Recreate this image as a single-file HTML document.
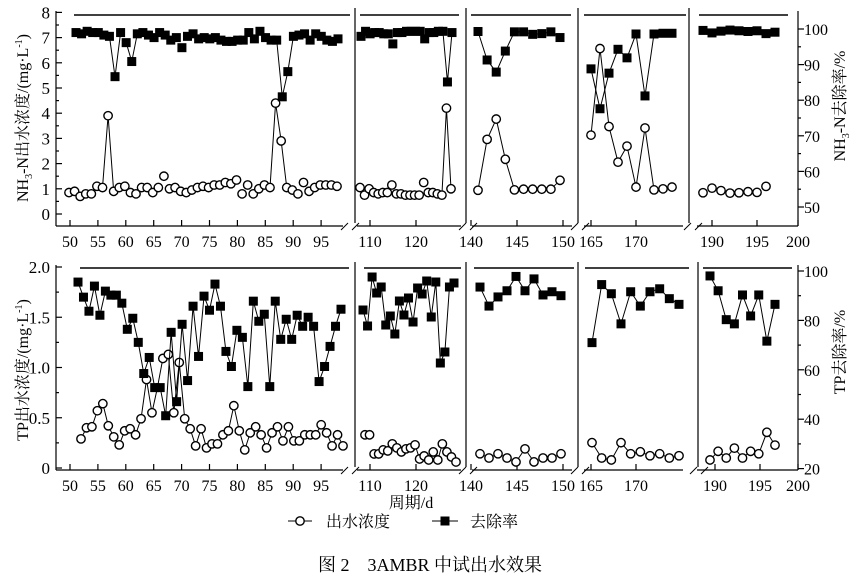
<!DOCTYPE html>
<html><head><meta charset="utf-8"><style>
body{margin:0;background:#fff;}
svg{display:block;font-family:"Liberation Serif","Noto Serif CJK SC","Noto Sans CJK SC",serif;}
</style></head><body>
<svg id="s" width="859" height="583" viewBox="0 0 859 583" xmlns="http://www.w3.org/2000/svg">
<g id="g" stroke="#000" fill="none" stroke-width="1.2"></g>
<g id="t" fill="#000" font-size="16"></g>
</svg>
<script>
const g=document.getElementById('g'),T=document.getElementById('t'),NS='http://www.w3.org/2000/svg';
function el(p,tag,a,txt){const e=document.createElementNS(NS,tag);for(const k in a)e.setAttribute(k,a[k]);if(txt!==undefined)e.textContent=txt;p.appendChild(e);return e;}
function L(x1,y1,x2,y2,w){el(g,'line',{x1,y1,x2,y2,'stroke-width':w||1.2});}
function C(x,y){el(g,'circle',{cx:x,cy:y,r:4.2,fill:'#fff','stroke-width':1.4});}
function S(x,y){el(g,'rect',{x:x-4.5,y:y-4.5,width:9,height:9,fill:'#000',stroke:'none'});}
function tx(x,y,s,anchor,size){el(T,'text',{x,y,'text-anchor':anchor||'middle','font-size':size||16},s);}
function poly(pts){el(g,'polyline',{points:pts.map(p=>p[0]+','+p[1]).join(' '),'stroke-width':1});}
function series(xs,ys,marker,segs,skip){
  (segs||[]).forEach(r=>poly(xs.slice(r[0],r[1]+1).map((x,i)=>[x,ys[r[0]+i]])));
  xs.forEach((x,i)=>{if(!(skip&&skip.includes(i)))marker(x,ys[i]);});}
const Lt=v=>214-25.2*v, Rt=r=>29+(100-r)*3.56, Lb=v=>468-100.5*v, Rb=r=>271+(100-r)*2.47;
const lin=(a,b,n)=>Array.from({length:n},(_,i)=>a+(b-a)*i/(n-1));

function frame(top,bot,hl,divs,axSegs,breaks){
  L(56,top,56,bot); L(798,top,798,bot);
  axSegs.forEach(s=>L(s[0],bot,s[1],bot));
  divs.forEach(x=>L(x,top-3,x,bot-3));
  hl.forEach(s=>L(s[0],hl.y,s[1],hl.y,1.5));
  breaks.forEach(x=>{L(x-8,bot+4,x-1,bot-3,1);L(x+3,bot+4,x+10,bot-3,1);});
}
let hl1=[[74,350],[360,459],[471,571],[584,686],[699,788]];hl1.y=15;
frame(11,226,hl1,[355,466,578,689],[[56,343],[357,461],[472,572],[584,683],[697,798]],[349,467,579,692]);
let hl2=[[80,349],[364,461],[474,574],[585,689],[703,792]];hl2.y=268;
frame(265,470,hl2,[355,466,578,698],[[56,343],[357,461],[472,572],[584,683],[697,798]],[349,467,579,698]);

function xt(bot,map){map.forEach(m=>{L(m[0],bot,m[0],bot-6);tx(m[0],bot+21,m[1]);});}
const xm1=[50,55,60,65,70,75,80,85,90,95].map(d=>[70+5.58*(d-50),String(d)]).concat([[370,'110'],[416,'120'],[471,'140'],[517,'145'],[563,'150'],[591,'165'],[636,'170'],[712,'190'],[757,'195'],[798,'200']]);
xt(226,xm1);
const xm2=xm1.map(m=>[m[0]+(m[0]>700&&m[0]<798?3:0),m[1]]);
xt(470,xm2);
for(let v=0;v<=8;v++){L(56,Lt(v),62,Lt(v));tx(50,Lt(v)+6,String(v),'end',17);}
for(let v=0.5;v<8;v++)L(56,Lt(v),59,Lt(v));
for(let r=50;r<=100;r+=10){L(798,Rt(r),804,Rt(r));tx(804,Rt(r)+6,String(r),'start',16);}
for(let r=55;r<=100;r+=10)L(798,Rt(r),801,Rt(r));
[[0,'0'],[0.5,'0.5'],[1,'1.0'],[1.5,'1.5'],[2,'2.0']].forEach(m=>{L(56,Lb(m[0]),62,Lb(m[0]));tx(50,Lb(m[0])+6,m[1],'end',17);});
for(let v=0.25;v<2;v+=0.5)L(56,Lb(v),59,Lb(v));
for(let r=20;r<=100;r+=20){L(798,Rb(r),804,Rb(r));tx(804,Rb(r)+6,String(r),'start',16);}
for(let r=30;r<=100;r+=20)L(798,Rb(r),801,Rb(r));

let c1=[0.85,0.9,0.7,0.8,0.8,1.1,1.05,3.9,0.9,1.05,1.1,0.85,0.8,1.05,1.05,0.85,1.05,1.5,1.0,1.05,0.9,0.85,0.95,1.05,1.1,1.05,1.15,1.15,1.25,1.2,1.35,0.8,1.15,0.8,1.0,1.15,1.05,4.4,2.9,1.05,0.95,0.8,1.25,0.9,1.05,1.15,1.15,1.15,1.1];
series(lin(69,337,49),c1.map(Lt),C,[[6,8],[36,39]]);
let s1=[7.2,7.15,7.25,7.2,7.2,7.1,7.05,5.45,7.2,6.8,6.05,7.15,7.2,7.1,7.0,7.2,7.1,6.9,7.0,6.6,7.05,7.15,6.95,7.0,6.95,7.0,6.9,6.85,6.85,6.9,6.9,7.2,6.95,7.25,7.0,6.9,6.9,4.65,5.65,7.05,7.1,7.15,6.9,7.15,7.05,6.9,6.85,6.95];
series(lin(76,338,48),s1.map(Lt),S,[[6,8],[9,11],[36,39]]);
let c2=[1.05,0.75,1.0,0.85,0.8,0.85,0.85,1.15,0.8,0.8,0.75,0.75,0.75,0.75,1.25,0.85,0.85,0.8,0.75,4.2,1.0];
series(lin(360,451,21),c2.map(Lt),C,[[18,20]]);
let s2=[7.05,7.25,7.15,7.2,7.2,7.15,7.15,6.75,7.2,7.2,7.25,7.25,7.25,7.25,6.95,7.2,7.2,7.25,7.25,5.24,7.2];
series(lin(361,452,21),s2.map(Lt),S,[[18,20]]);
series(lin(478,560,10),[54.7,69,74.7,63.4,54.8,55,55,55,55,57.5].map(Rt),C,[[0,4],[8,9]]);
series(lin(478,560,10),[99.3,91.3,87.9,93.8,99.2,99.2,98.5,98.7,99.2,97.6].map(Rt),S,[[0,9]]);
series(lin(591,672,10),[70.2,94.5,72.6,62.6,67.1,55.6,72.2,54.8,55.1,55.6].map(Rt),C,[[0,7]]);
series(lin(591,672,10),[88.8,77.6,87.6,94.3,91.9,98.6,81.2,98.6,98.8,98.8].map(Rt),S,[[0,7]]);
series(lin(703,766,8),[54,55.3,54.6,53.9,54,54.3,54.1,55.8].map(Rt),C,[]);
series(lin(703,775,9),[99.6,98.9,99.4,99.7,99.5,99.3,99.5,98.7,99.1].map(Rt),S,[]);

let bc1=[.29,.40,.41,.57,.64,.42,.31,.23,.37,.39,.33,.49,.88,.55,.80,1.09,1.13,.55,1.05,.49,.39,.22,.39,.20,.24,.24,.33,.37,.62,.37,.18,.35,.41,.33,.20,.35,.41,.27,.41,.27,.27,.33,.33,.33,.43,.35,.22,.33,.22];
series(lin(81,343,49),bc1.map(Lb),C,[[0,48]],[14]);
let bs1=[1.85,1.70,1.56,1.81,1.52,1.76,1.72,1.72,1.64,1.38,1.49,1.25,0.94,1.10,0.80,0.80,0.52,1.35,0.66,1.43,0.87,1.61,1.11,1.71,1.57,1.83,1.61,1.16,1.01,1.37,1.30,0.81,1.66,1.46,1.53,0.81,1.66,1.28,1.48,1.28,1.52,1.41,1.50,1.41,0.86,1.01,1.21,1.41,1.58];
series(lin(78,341,49),bs1.map(Lb),S,[[0,48]]);
series(lin(365,456,21),[.33,.33,.14,.14,.18,.17,.24,.20,.16,.19,.20,.23,.09,.12,.08,.16,.08,.24,.16,.11,.06].map(Lb),C,[[0,1],[2,20]]);
series(lin(363,454,21),[310,326,277,293,287,325,316,334,301,315,298,322,288,294,281,317,282,363,352,287,283],S,[[0,20]]);
series(lin(480,561,10),[93.5,85.8,89.5,92,97.8,92,96.8,90.3,91.6,90].map(Rb),S,[[0,9]]);
series(lin(480,561,10),[26,24.3,26,24.3,22.7,28,22.7,24.3,24.3,26].map(Rb),C,[[0,9]]);
series(lin(592,679,10),[71,94.5,90.8,78.6,91.6,85.8,91.6,92.8,88.8,86.5].map(Rb),S,[[0,9]]);
series(lin(592,679,10),[30.5,24.3,23.5,30.5,26,26.8,25.2,26,24.3,25.2].map(Rb),C,[[0,9]]);
series(lin(710,775,9),[98,92,80.3,78.6,90.3,81.8,90.3,71.6,86.5].map(Rb),S,[[0,8]]);
series(lin(710,775,9),[23.5,27,24.3,28.3,24.3,27,26,34.7,29.5].map(Rb),C,[[0,8]]);

function vt(x,y,html,size){const t=el(T,'text',{x:0,y:0,'text-anchor':'middle','font-size':size||16,transform:`translate(${x},${y}) rotate(-90)`});t.innerHTML=html;}
vt(28,118,'NH<tspan font-size="10" dy="4">3</tspan><tspan dy="-4">-N出水浓度/(mg·L</tspan><tspan font-size="10" dy="-6">-1</tspan><tspan dy="6">)</tspan>');
vt(845,106,'NH<tspan font-size="10" dy="4">3</tspan><tspan dy="-4">-N去除率/%</tspan>');
vt(28,370,'TP出水浓度/(mg·L<tspan font-size="10" dy="-6">-1</tspan><tspan dy="6">)</tspan>');
vt(845,352,'TP去除率/%');
tx(411,508,'周期/d','middle',16);
L(288,521,312,521,1);C(300,521);tx(326,527,'出水浓度','start',16);
L(432,521,458,521,1);S(445,521);tx(470,527,'去除率','start',16);
tx(430,571,'图 2　3AMBR 中试出水效果','middle',18);
</script>
</body></html>
